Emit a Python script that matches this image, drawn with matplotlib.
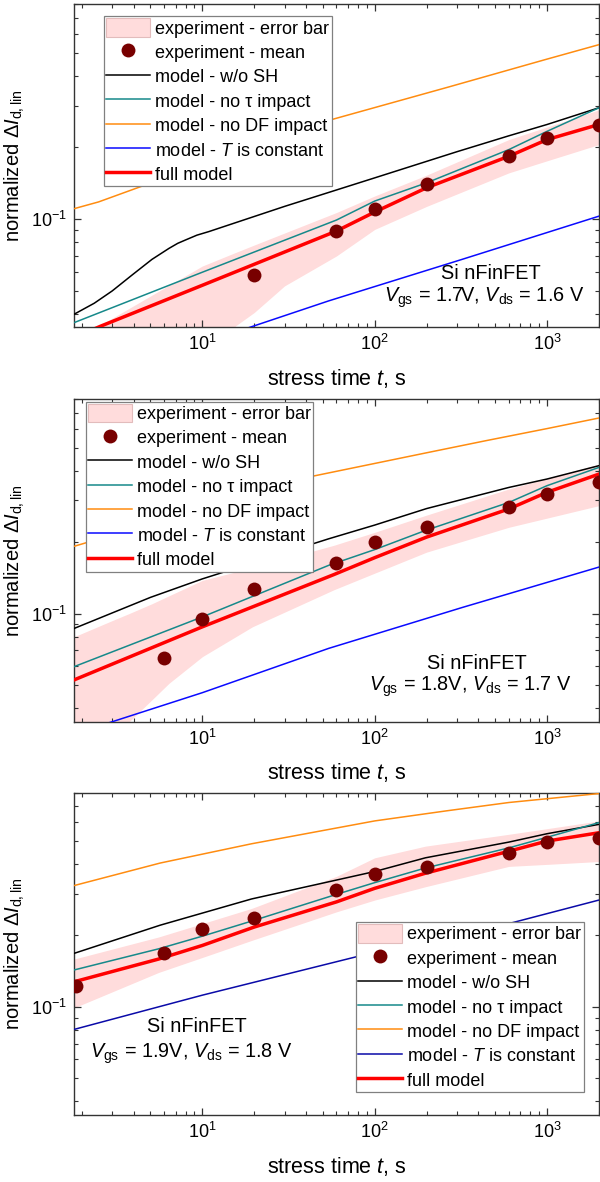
import matplotlib
matplotlib.use('Agg')
import matplotlib.pyplot as plt
from matplotlib.patches import Patch
from matplotlib.ticker import LogLocator, NullFormatter

plt.rcParams['font.family'] = ['Liberation Sans', 'DejaVu Sans']
plt.rcParams['mathtext.fontset'] = 'custom'
plt.rcParams['mathtext.rm'] = 'Liberation Sans'
plt.rcParams['mathtext.it'] = 'Liberation Sans:italic'
plt.rcParams['mathtext.bf'] = 'Liberation Sans:bold'

# ---------------- Panel 1 : Vgs = 1.7 V, Vds = 1.6 V ----------------
p1_exp_t = [20, 60, 100, 200, 600, 1000, 2000]
p1_exp_y = [0.058, 0.089, 0.1107, 0.1406, 0.1837, 0.219, 0.248]
p1_band_t = [1.8, 2.6, 5, 10, 15.6, 20, 30, 60, 100, 200, 600, 1000, 2000]
p1_band_hi = [0.0315, 0.036, 0.0474, 0.0634, 0.0723, 0.0777, 0.0873, 0.1065, 0.125, 0.153, 0.216, 0.244, 0.288]
p1_band_lo = [0.008, 0.011, 0.016, 0.022, 0.0355, 0.0404, 0.0523, 0.0699, 0.0904, 0.113, 0.1564, 0.1758, 0.2058]
p1_wosh_t = [1.8, 2.36, 3, 3.9, 5.1, 6.4, 7.2, 8.05, 9.3, 10.9, 15.6, 30, 60, 100, 300, 600, 1000, 2000]
p1_wosh_y = [0.0397, 0.0442, 0.0498, 0.058, 0.0676, 0.0752, 0.079, 0.0818, 0.0855, 0.0885, 0.0965, 0.113, 0.1325, 0.149, 0.192, 0.224, 0.25, 0.294]
p1_notau_t = [1.8, 10, 60, 100, 200, 600, 1000, 2000]
p1_notau_y = [0.0366, 0.0597, 0.099, 0.119, 0.142, 0.196, 0.234, 0.294]
p1_nodf_t = [1.8, 2.5, 40, 54, 270, 977, 2000]
p1_nodf_y = [0.1105, 0.118, 0.245, 0.26, 0.36, 0.469, 0.542]
p1_tconst_t = [1.8, 20, 54, 321, 2000]
p1_tconst_y = [0.0197, 0.0355, 0.0452, 0.0676, 0.1028]
p1_full_t = [1.8, 2.6, 10, 60, 100, 200, 600, 1000, 2000]
p1_full_y = [0.0317, 0.0355, 0.0526, 0.089, 0.107, 0.1354, 0.1837, 0.216, 0.25]

# ---------------- Panel 2 : Vgs = 1.8 V, Vds = 1.7 V ----------------
p2_exp_t = [6, 10, 20, 60, 100, 200, 600, 1000, 2000]
p2_exp_y = [0.0647, 0.0946, 0.1264, 0.1632, 0.2, 0.2312, 0.2806, 0.319, 0.357]
p2_band_t = [1.8, 3, 3.76, 5.1, 6.4, 10, 19.5, 58, 100, 200, 600, 1000, 2000]
p2_band_hi = [0.0798, 0.0934, 0.100, 0.110, 0.1188, 0.138, 0.156, 0.194, 0.22, 0.26, 0.335, 0.371, 0.4266]
p2_band_lo = [0.018, 0.028, 0.035, 0.0433, 0.0508, 0.0658, 0.0879, 0.126, 0.148, 0.1815, 0.231, 0.2525, 0.285]
p2_wosh_t = [1.8, 5, 10, 54, 100, 200, 600, 1000, 2000]
p2_wosh_y = [0.0865, 0.117, 0.140, 0.2065, 0.236, 0.277, 0.34, 0.369, 0.42]
p2_notau_t = [1.8, 10, 54, 100, 197, 600, 1000, 2000]
p2_notau_y = [0.0597, 0.0968, 0.1596, 0.186, 0.224, 0.294, 0.346, 0.413]
p2_nodf_t = [1.8, 42, 200, 440, 1000, 2000]
p2_nodf_y = [0.192, 0.377, 0.476, 0.535, 0.602, 0.667]
p2_tconst_t = [1.8, 3, 10, 54, 321, 2000]
p2_tconst_y = [0.031, 0.035, 0.0464, 0.0713, 0.106, 0.157]
p2_full_t = [1.8, 10, 58, 100, 200, 600, 1000, 2000]
p2_full_y = [0.0525, 0.0879, 0.146, 0.172, 0.21, 0.276, 0.3245, 0.387]

# ---------------- Panel 3 : Vgs = 1.9 V, Vds = 1.8 V ----------------
p3_exp_t = [1.85, 6, 10, 20, 60, 100, 200, 600, 1000, 2000]
p3_exp_y = [0.1225, 0.1686, 0.212, 0.237, 0.311, 0.364, 0.387, 0.446, 0.496, 0.513]
p3_band_t = [1.8, 5.57, 10, 19.3, 60, 100, 197, 600, 1000, 2000]
p3_band_hi = [0.159, 0.197, 0.2244, 0.26, 0.355, 0.425, 0.476, 0.534, 0.564, 0.608]
p3_band_lo = [0.099, 0.1396, 0.1615, 0.1905, 0.2515, 0.282, 0.321, 0.391, 0.3987, 0.41]
p3_wosh_t = [1.8, 5.7, 19.3, 100, 197, 600, 1000, 2000]
p3_wosh_y = [0.168, 0.221, 0.285, 0.372, 0.425, 0.495, 0.537, 0.588]
p3_notau_t = [1.8, 5.57, 10, 20, 60, 100, 197, 600, 1000, 2000]
p3_notau_y = [0.143, 0.1756, 0.1986, 0.2317, 0.298, 0.334, 0.385, 0.468, 0.519, 0.598]
p3_nodf_t = [1.8, 5.7, 19.3, 100, 263, 600, 2000]
p3_nodf_y = [0.3245, 0.404, 0.487, 0.608, 0.671, 0.727, 0.793]
p3_tconst_t = [1.8, 10, 100, 600, 2000]
p3_tconst_y = [0.0803, 0.112, 0.170, 0.2244, 0.282]
p3_full_t = [1.8, 5.57, 10, 20, 60, 100, 197, 600, 1000, 2000]
p3_full_y = [0.1275, 0.159, 0.1815, 0.217, 0.277, 0.316, 0.366, 0.453, 0.5, 0.542]

legend_labels = ['experiment - error bar', 'experiment - mean', 'model - w/o SH',
                 'model - no τ impact', 'model - no DF impact', 'model - $T$ is constant',
                 'full model']
device_label = 'Si nFinFET'
bias_labels = ['$V_{\\rm gs}$ = 1.7V, $V_{\\rm ds}$ = 1.6 V',
               '$V_{\\rm gs}$ = 1.8V, $V_{\\rm ds}$ = 1.7 V',
               '$V_{\\rm gs}$ = 1.9V, $V_{\\rm ds}$ = 1.8 V']

panels = [
    dict(exp=(p1_exp_t, p1_exp_y), band=(p1_band_t, p1_band_lo, p1_band_hi),
         wosh=(p1_wosh_t, p1_wosh_y), notau=(p1_notau_t, p1_notau_y),
         nodf=(p1_nodf_t, p1_nodf_y), tconst=(p1_tconst_t, p1_tconst_y),
         full=(p1_full_t, p1_full_y), blue='#0a0aff',
         leg=(0.057, 0.964), dev=(0.794, 0.167), bias=(0.781, 0.093)),
    dict(exp=(p2_exp_t, p2_exp_y), band=(p2_band_t, p2_band_lo, p2_band_hi),
         wosh=(p2_wosh_t, p2_wosh_y), notau=(p2_notau_t, p2_notau_y),
         nodf=(p2_nodf_t, p2_nodf_y), tconst=(p2_tconst_t, p2_tconst_y),
         full=(p2_full_t, p2_full_y), blue='#0a0aff',
         leg=(0.022, 0.993), dev=(0.767, 0.181), bias=(0.754, 0.107)),
    dict(exp=(p3_exp_t, p3_exp_y), band=(p3_band_t, p3_band_lo, p3_band_hi),
         wosh=(p3_wosh_t, p3_wosh_y), notau=(p3_notau_t, p3_notau_y),
         nodf=(p3_nodf_t, p3_nodf_y), tconst=(p3_tconst_t, p3_tconst_y),
         full=(p3_full_t, p3_full_y), blue='#0a0aa8',
         leg=(0.537, 0.599), dev=(0.235, 0.274), bias=(0.2225, 0.190)),
]

BAND = '#ffdcdc'
PT = '#780000'
TEAL = '#16898a'
ORANGE = '#ff8c10'
RED = '#ff0000'
FS_TICK = 13
FS_LEG = 13
FS_ANN = 14.3
FS_XLAB = 15.5
FS_YLAB = 14.5

fig = plt.figure(figsize=(6, 11.82), dpi=100)
rects = [[0.1233, 0.7231, 0.875, 0.2731],
         [0.1233, 0.3894, 0.875, 0.2728],
         [0.1233, 0.0567, 0.875, 0.2727]]

for i, (p, r) in enumerate(zip(panels, rects)):
    ax = fig.add_axes(r)
    ax.set_xscale('log')
    ax.set_yscale('log')
    bt, blo, bhi = p['band']
    ax.fill_between(bt, blo, bhi, color=BAND, linewidth=0, zorder=1)
    l_wosh, = ax.plot(*p['wosh'], color='black', lw=1.1, zorder=3)
    l_notau, = ax.plot(*p['notau'], color=TEAL, lw=1.1, zorder=3)
    l_nodf, = ax.plot(*p['nodf'], color=ORANGE, lw=1.1, zorder=3)
    l_tc, = ax.plot(*p['tconst'], color=p['blue'], lw=1.1, zorder=3)
    l_full, = ax.plot(*p['full'], color=RED, lw=2.5, zorder=4)
    l_exp, = ax.plot(*p['exp'], linestyle='none', marker='o', markersize=10,
                     color=PT, markeredgewidth=0, zorder=5)
    ax.set_xlim(1.8, 2000)
    ax.set_ylim(0.035, 0.8)

    band_handle = Patch(facecolor=BAND, edgecolor='#e2bcbc', linewidth=0.8)
    handles = [band_handle, l_exp, l_wosh, l_notau, l_nodf, l_tc, l_full]
    leg = ax.legend(handles, legend_labels, loc='upper left', bbox_to_anchor=p['leg'],
                    borderaxespad=0, frameon=True, fancybox=False, edgecolor='#808080',
                    framealpha=1, fontsize=FS_LEG, handlelength=2.45, handleheight=1.2,
                    handletextpad=0.28, borderpad=0.12, labelspacing=0.28)
    leg.get_frame().set_linewidth(0.9)
    leg.set_zorder(10)

    ax.text(p['dev'][0], p['dev'][1], device_label, transform=ax.transAxes,
            ha='center', va='center', fontsize=FS_ANN)
    ax.text(p['bias'][0], p['bias'][1], bias_labels[i], transform=ax.transAxes,
            ha='center', va='center', fontsize=FS_ANN)

    ax.xaxis.set_major_locator(LogLocator(base=10, numticks=10))
    ax.xaxis.set_minor_locator(LogLocator(base=10, subs=range(2, 10), numticks=10))
    ax.xaxis.set_minor_formatter(NullFormatter())
    ax.yaxis.set_minor_formatter(NullFormatter())
    ax.tick_params(which='both', direction='in', top=True, right=True,
                   labelsize=FS_TICK, color='#333333')
    ax.tick_params(which='major', length=5, width=0.9, pad=5)
    ax.tick_params(which='minor', length=3, width=0.8)
    for s in ax.spines.values():
        s.set_linewidth(1.0)
        s.set_color('#333333')
    ax.set_xlabel('stress time $t$, s', fontsize=FS_XLAB, labelpad=9)
    ax.set_ylabel('normalized Δ$I_{\\rm d,lin}$', fontsize=FS_YLAB, labelpad=3)

fig.savefig('out.png', dpi=100)
